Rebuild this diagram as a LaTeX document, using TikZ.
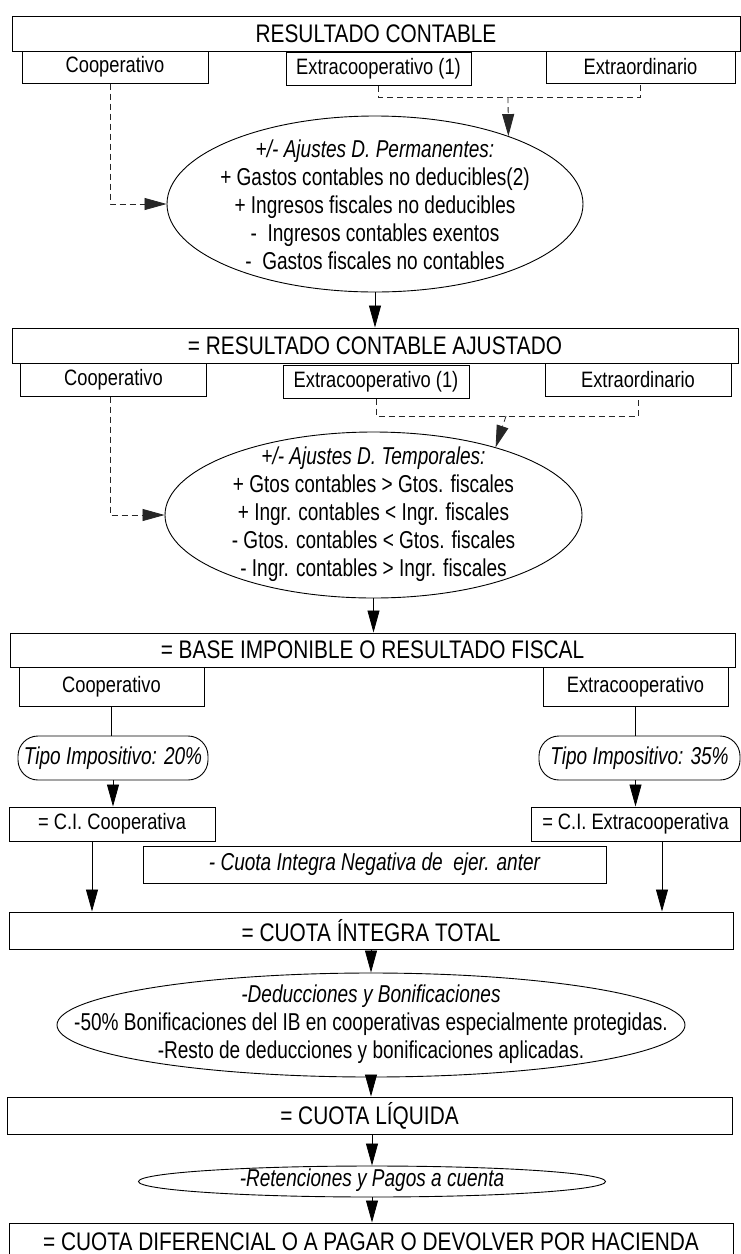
\documentclass[tikz,border=0pt]{standalone}
\usepackage{fontspec}
\setmainfont{Liberation Sans}[FakeStretch=0.82]
\newfontfamily\narrowfam{Liberation Sans}[FakeStretch=0.78]
\usetikzlibrary{shapes.geometric,arrows.meta,calc}
\newcommand\fbig{\fontsize{25.4}{28}\selectfont}
\newcommand\fsub{\fontsize{22.3}{26}\selectfont}
\newcommand\fell{\narrowfam\fontsize{24.4}{28}\selectfont}
\tikzset{
  bigbox/.style={draw, line width=1pt, fill=white, inner sep=0pt, font=\fbig},
  subbox/.style={draw, line width=1pt, fill=white, inner sep=0pt, font=\fsub},
  ell/.style={ellipse, draw, line width=0.9pt, fill=white, inner sep=0pt},
  elltext/.style={inner sep=0pt, align=center, font=\fell},
  tipo/.style={draw, line width=0.9pt, fill=white, rounded corners=20pt, inner sep=0pt, font=\fell\itshape},
  arr/.style={line width=0.8pt, -{Triangle[length=22pt,width=12pt]}},
  dsh/.style={line width=0.8pt, black!85, dash pattern=on 6pt off 4pt},
  dsharr/.style={dsh, -{Triangle[length=22pt,width=12pt]}},
  thin/.style={line width=0.8pt}
}
\begin{document}
\begin{tikzpicture}[x=1pt,y=-1pt]
\useasboundingbox (0,0) rectangle (741,1254);
\fill[white] (0,0) rectangle (741,1254);

% --- Resultado contable
\node[bigbox, minimum width=728pt, minimum height=35pt] (rc) at (376,33.5) {RESULTADO CONTABLE};
\node[subbox, minimum width=186pt, minimum height=32pt] (c1) at (115,67) {Cooperativo};
\node[subbox, minimum width=185pt, minimum height=33pt] (x1) at (378.5,68.5) {Extracooperativo (1)};
\node[subbox, minimum width=189pt, minimum height=32pt] (o1) at (640.5,67) {Extraordinario};

\node[ell, minimum width=416pt, minimum height=176pt] (el1) at (375,204) {};
\node[elltext] (el1t) at (375,205) {%
\textit{+/- Ajustes D. Permanentes:}\\
+ Gastos contables no deducibles(2)\\
+ Ingresos fiscales no deducibles\\
-\ \ Ingresos contables exentos\\
-\ \ Gastos fiscales no contables};

\coordinate (c1d) at ($(c1.south)+(-5,0)$);
\draw[dsharr] (c1d) |- (el1.west);
\coordinate (j1) at (508,97);
\draw[dsh] (x1.south) |- (j1) -| (o1.south);
\draw[dsharr] (j1) -- (el1.27);

% --- Resultado contable ajustado
\node[bigbox, minimum width=726pt, minimum height=35pt] (rca) at (375,345.5) {= RESULTADO CONTABLE AJUSTADO};
\draw[arr] (el1.south) -- (el1.south |- rca.north);
\node[subbox, minimum width=186pt, minimum height=33pt] (c2) at (113.5,379.5) {Cooperativo};
\node[subbox, minimum width=186pt, minimum height=33pt] (x2) at (376,381.5) {Extracooperativo (1)};
\node[subbox, minimum width=186pt, minimum height=33pt] (o2) at (638,379.5) {Extraordinario};

\node[ell, minimum width=417pt, minimum height=166pt] (el2) at (373.5,515) {};
\node[elltext] (el2t) at (373.5,514) {%
\textit{+/- Ajustes D. Temporales:}\\
+ Gtos contables > Gtos. fiscales\\
+ Ingr. contables < Ingr. fiscales\\
- Gtos. contables < Gtos. fiscales\\
- Ingr. contables > Ingr. fiscales};

\coordinate (c2d) at ($(c2.south)+(-3.5,0)$);
\draw[dsharr] (c2d) |- (el2.west);
\coordinate (j2) at (506,416);
\draw[dsh] (x2.south) |- (j2) -| (o2.south);
\draw[dsharr] (j2) -- (el2.29);

% --- Base imponible
\node[bigbox, minimum width=725pt, minimum height=34pt] (base) at (372.5,650) {= BASE IMPONIBLE O RESULTADO FISCAL};
\draw[arr] (el2.south) -- (el2.south |- base.north);
\node[subbox, minimum width=185pt, minimum height=39pt] (c3) at (111.5,686.5) {Cooperativo};
\node[subbox, minimum width=185pt, minimum height=39pt] (x3) at (635.5,686.5) {Extracooperativo};

\node[tipo, minimum width=190pt, minimum height=44pt] (t1) at (113,758) {Tipo Impositivo: 20\%};
\node[tipo, minimum width=201pt, minimum height=44pt] (t2) at (639.5,758) {Tipo Impositivo: 35\%};
\draw[thin] (c3.south) -- (c3.south |- t1.north);
\draw[thin] (x3.south) -- (x3.south |- t2.north);

\node[subbox, minimum width=206pt, minimum height=34pt] (ci1) at (112,824) {= C.I. Cooperativa};
\node[subbox, minimum width=209pt, minimum height=34pt] (ci2) at (635.5,824) {= C.I. Extracooperativa};
\draw[arr] (t1.south) -- (t1.south |- ci1.north);
\draw[arr] (t2.south -| x3.south) -- (x3.south |- ci2.north);

\node[subbox, font=\fell\itshape, minimum width=463pt, minimum height=37pt] (neg) at (374.5,864.5) {- Cuota Integra Negativa de\ \ ejer. anter};

% --- Cuota integra total
\node[bigbox, minimum width=724pt, minimum height=37pt] (cit) at (371,930.5) {= CUOTA ÍNTEGRA TOTAL};
\coordinate (ci1d) at ($(ci1.south)+(-20,0)$);
\coordinate (ci2d) at ($(ci2.south)+(26.5,0)$);
\draw[arr] (ci1d) -- (ci1d |- cit.north);
\draw[arr] (ci2d) -- (ci2d |- cit.north);

\node[ell, minimum width=628pt, minimum height=104pt] (el3) at (371,1025) {};
\node[elltext] (el3t) at (371,1024) {%
\textit{-Deducciones y Bonificaciones}\\
-50\% Bonificaciones del IB en cooperativas especialmente protegidas.\\
-Resto de deducciones y bonificaciones aplicadas.};
\draw[arr] (cit.south) -- (cit.south |- el3.north);

\node[bigbox, minimum width=725pt, minimum height=37pt] (cl) at (369.5,1115.5) {= CUOTA LÍQUIDA};
\draw[arr] (el3.south) -- (el3.south |- cl.north);

\node[ell, minimum width=467pt, minimum height=31pt] (el4) at (372,1181.5) {};
\node[elltext, font=\fell\itshape] (el4t) at (372,1180) {-Retenciones y Pagos a cuenta};
\draw[arr] (cl.south -| el4.north) -- (el4.north);

\node[bigbox, minimum width=724pt, minimum height=38pt] (cd) at (371,1242) {= CUOTA DIFERENCIAL O A PAGAR O DEVOLVER POR HACIENDA};
\draw[arr] (el4.south) -- (el4.south |- cd.north);
\end{tikzpicture}
\end{document}
